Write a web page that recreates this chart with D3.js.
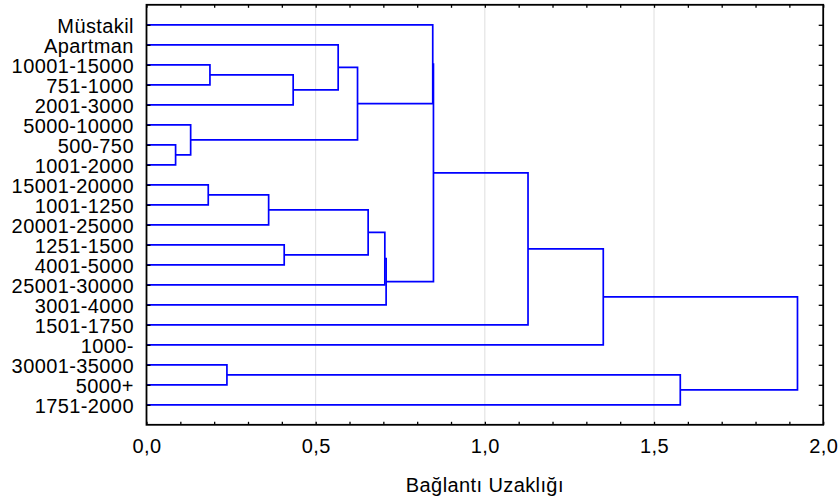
<!DOCTYPE html>
<html>
<head>
<meta charset="utf-8">
<script src="https://cdn.jsdelivr.net/npm/d3@7"></script>
<style>
  html, body { margin: 0; padding: 0; background: #fff; }
  svg { display: block; }
  text { font-family: "Liberation Sans", Arial, sans-serif; fill: #000; }
</style>
</head>
<body>
<svg id="chart" width="840" height="502"></svg>
<script>
// Leaf order (top to bottom)
const leaves = [
  "Müstakil", "Apartman", "10001-15000", "751-1000", "2001-3000",
  "5000-10000", "500-750", "1001-2000", "15001-20000", "1001-1250",
  "20001-25000", "1251-1500", "4001-5000", "25001-30000", "3001-4000",
  "1501-1750", "1000-", "30001-35000", "5000+", "1751-2000"
];
// Linkage: [child A, child B, linkage distance]; indices < 20 are leaves, >= 20 are earlier merges
const mergeA = [6, 5, 8, 2, 17, 22, 11, 23, 1, 28, 25, 30, 31, 0, 33, 34, 35, 24, 36];
const mergeB = [7, 20, 9, 3, 18, 10, 12, 4, 27, 21, 26, 13, 14, 29, 32, 15, 16, 19, 37];
const mergeH = [0.086, 0.1305, 0.1825, 0.1875, 0.2377, 0.361, 0.407, 0.4335, 0.5665, 0.6237,
                0.6551, 0.7044, 0.7082, 0.846, 0.8481, 1.1276, 1.350, 1.5776, 1.924];
const xTicksMajor = [0, 0.5, 1.0, 1.5, 2.0];
const xTickLabels = ["0,0", "0,5", "1,0", "1,5", "2,0"];
const xTicksMinor = d3.range(0, 21).map(i => i / 10);
const xTitle = "Bağlantı Uzaklığı";

const svg = d3.select("#chart");
const L = 146.5, R = 823.2, T = 4.8, B = 424.8;

const x = d3.scaleLinear().domain([0, 2]).range([L, R]);
const y = d3.scalePoint().domain(leaves).range([T, B]).padding(1);

// gridlines
svg.append("g").selectAll("line")
  .data(xTicksMajor.filter(v => v > 0 && v < 2))
  .join("line")
  .attr("x1", d => x(d)).attr("x2", d => x(d))
  .attr("y1", T).attr("y2", B)
  .attr("stroke", "#dedede").attr("stroke-width", 1);

// node positions
const nodes = leaves.map(n => ({ x: x(0), y: y(n) }));
mergeH.forEach((h, i) => {
  const a = nodes[mergeA[i]], b = nodes[mergeB[i]];
  nodes.push({ x: x(h), y: (a.y + b.y) / 2, a, b });
});

svg.append("g").selectAll("path")
  .data(nodes.slice(leaves.length))
  .join("path")
  .attr("fill", "none")
  .attr("stroke", "#0000ff")
  .attr("stroke-width", 1.7)
  .attr("d", d => `M${d.a.x},${d.a.y}H${d.x}V${d.b.y}H${d.b.x}`);

// axes
const fontSize = "20px";
const spacing = "0.4px";
const gB = svg.append("g").attr("transform", `translate(0,${B})`)
  .call(d3.axisBottom(x).tickValues(xTicksMinor).tickSize(-3).tickSizeOuter(0).tickFormat(""));
const gBL = svg.append("g").attr("transform", `translate(0,${B})`)
  .call(d3.axisBottom(x).tickValues(xTicksMajor).tickSize(0).tickPadding(14.5)
    .tickFormat((d, i) => xTickLabels[i]));
const gT = svg.append("g").attr("transform", `translate(0,${T})`)
  .call(d3.axisTop(x).tickValues(xTicksMinor).tickSize(-3).tickSizeOuter(0).tickFormat(""));
const gL = svg.append("g").attr("transform", `translate(${L},0)`)
  .call(d3.axisLeft(y).tickSize(-4).tickSizeOuter(0).tickPadding(12.6));
const gR = svg.append("g").attr("transform", `translate(${R},0)`)
  .call(d3.axisRight(y).tickSize(-4.5).tickSizeOuter(0).tickFormat(""));

[gB, gBL, gT, gL, gR].forEach(g => {
  g.select(".domain").remove();
  g.selectAll(".tick line").attr("stroke", "#000").attr("stroke-width", 1.3);
  g.selectAll("text").attr("font-size", fontSize).attr("fill", "#000")
    .attr("letter-spacing", spacing)
    .style("font-family", '"Liberation Sans", Arial, sans-serif');
});
gL.selectAll("text").attr("dy", "0.36em");

// frame
svg.append("rect")
  .attr("x", L).attr("y", T).attr("width", R - L).attr("height", B - T)
  .attr("fill", "none").attr("stroke", "#000").attr("stroke-width", 1.8);

// axis title
svg.append("text")
  .attr("x", x(1)).attr("y", 492)
  .attr("text-anchor", "middle")
  .attr("font-size", fontSize)
  .attr("letter-spacing", spacing)
  .text(xTitle);
</script>
</body>
</html>
